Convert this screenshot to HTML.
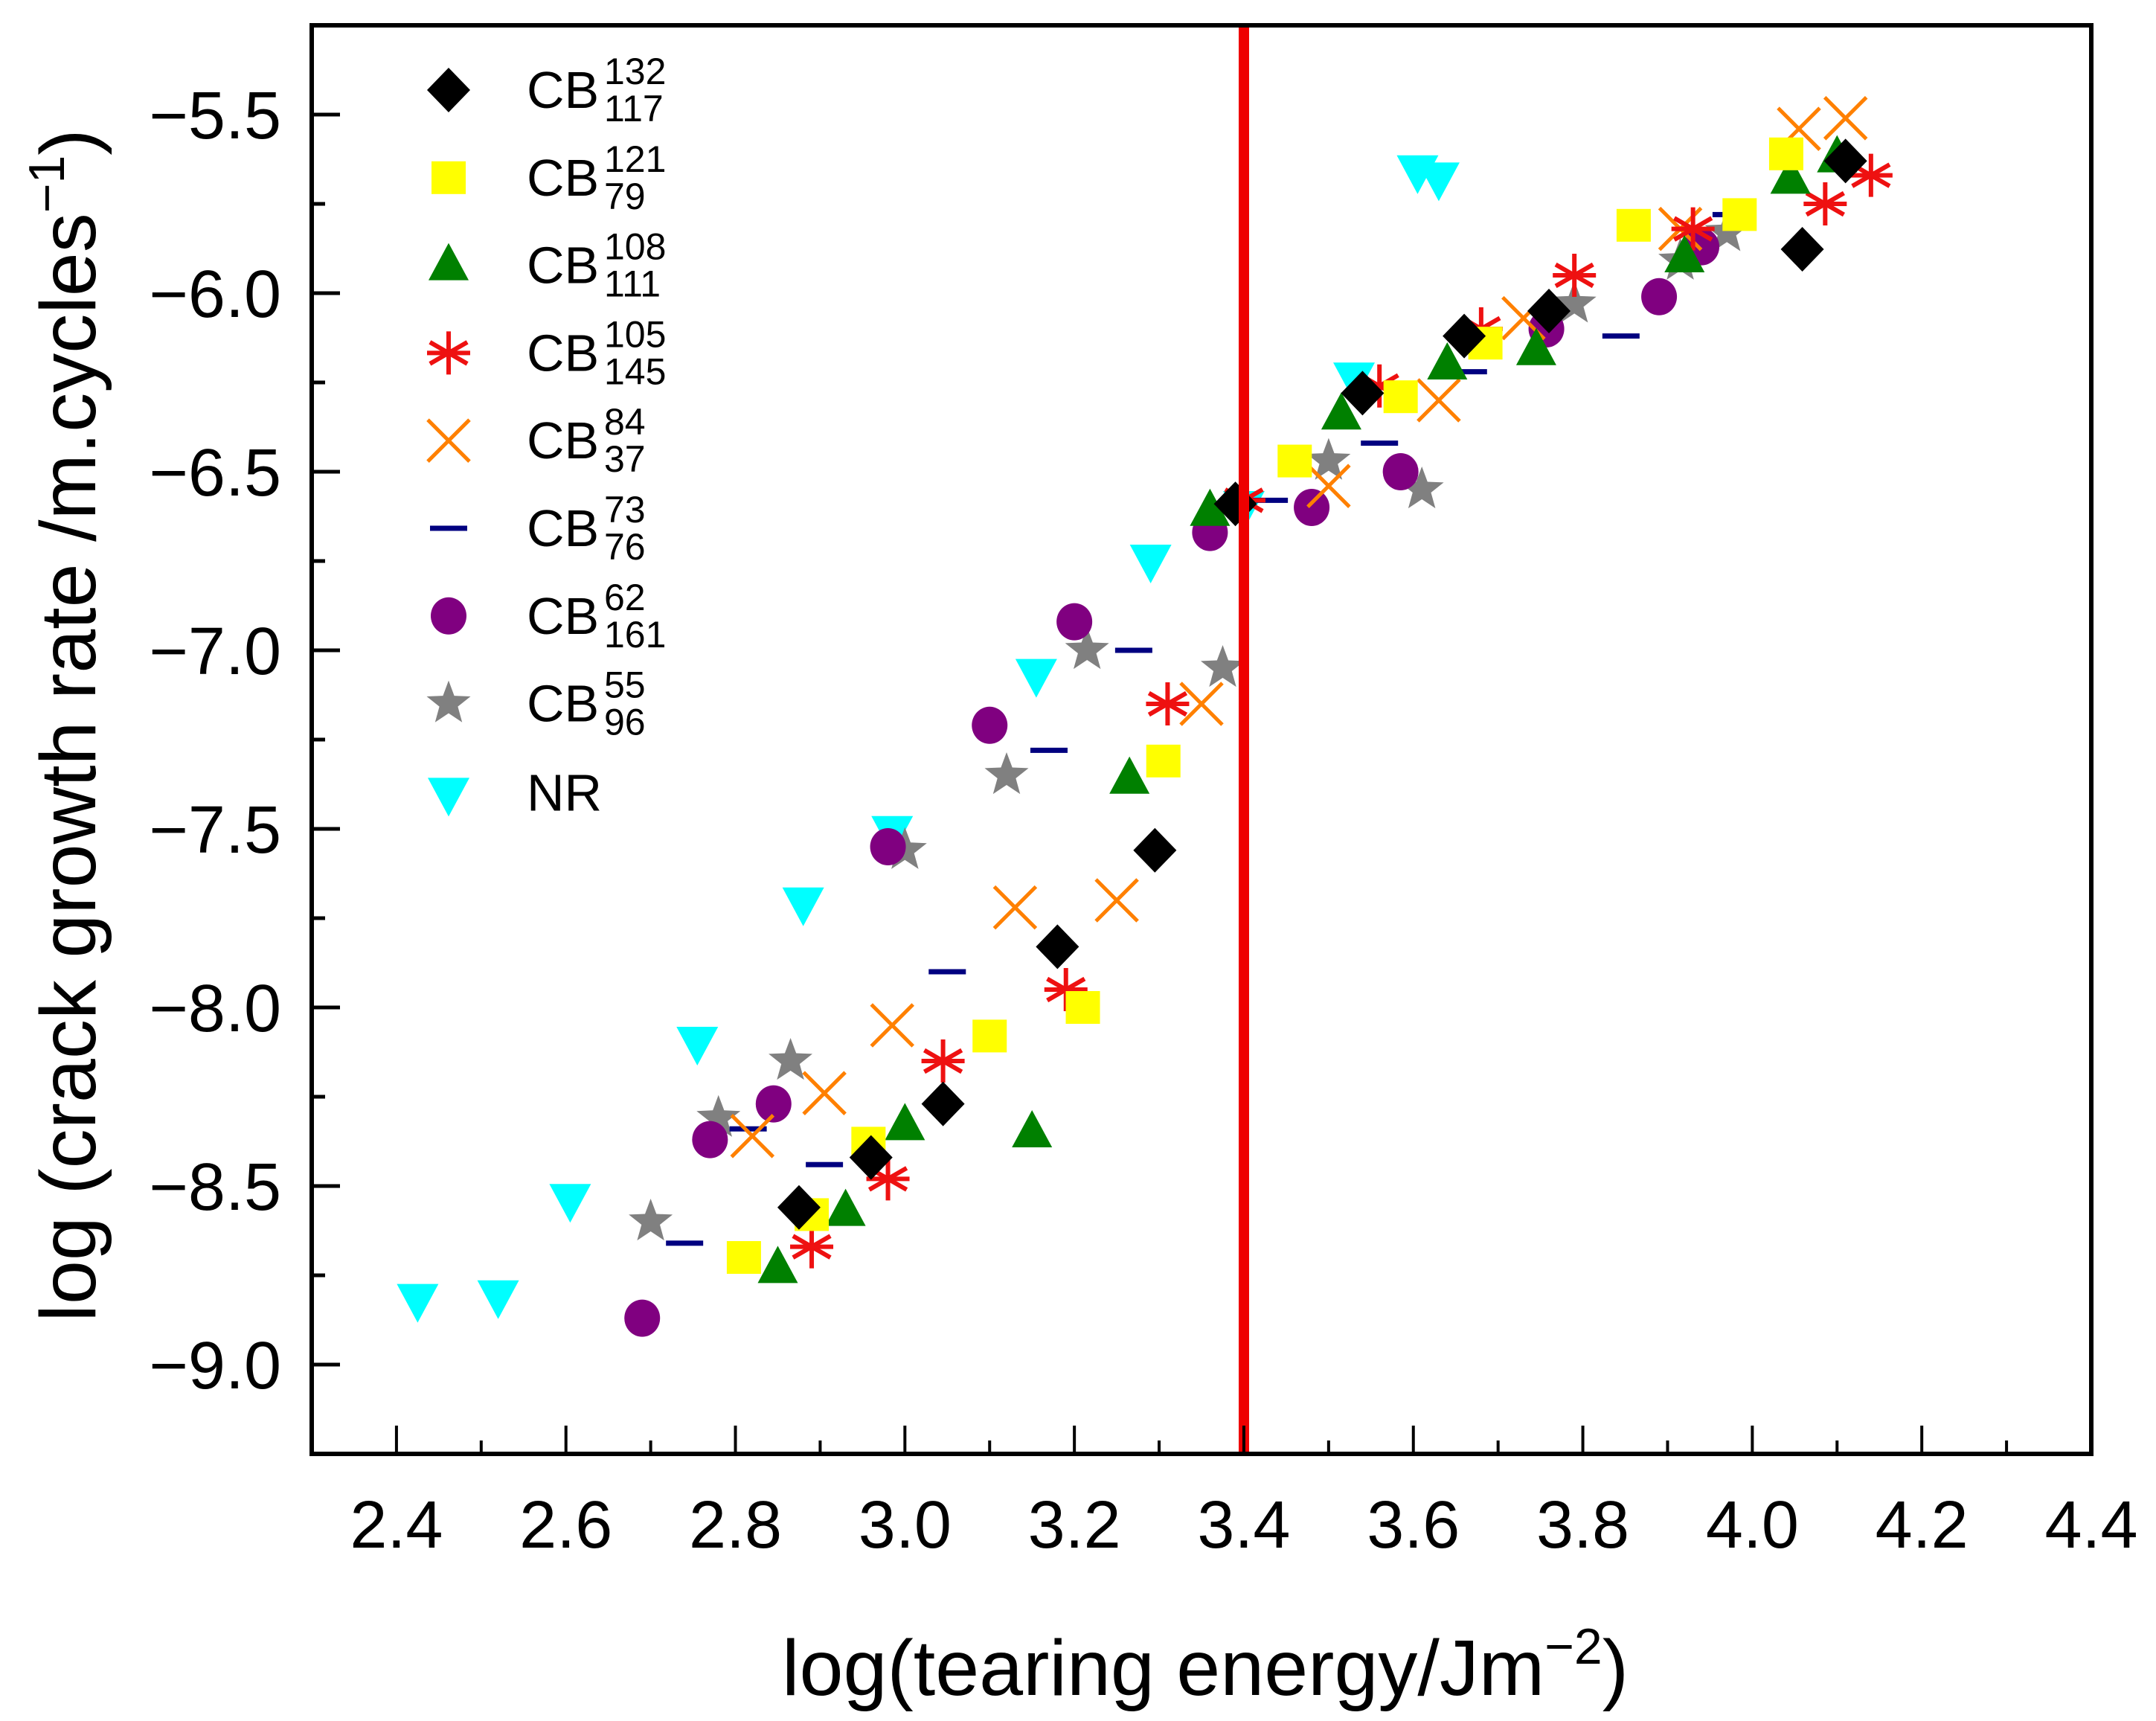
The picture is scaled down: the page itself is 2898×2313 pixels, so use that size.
<!DOCTYPE html>
<html><head><meta charset="utf-8"><style>
html,body{margin:0;padding:0;background:#fff;}
svg{display:block;font-family:"Liberation Sans",Arial,sans-serif;}
</style></head><body>
<svg id="chart" width="2898" height="2313" viewBox="0 0 2898 2313" xmlns="http://www.w3.org/2000/svg">
<rect width="2898" height="2313" fill="#fff"/>
<g id="marks"></g>
<line x1="1672" y1="34" x2="1672" y2="1954" stroke="#ee0000" stroke-width="14"/>
<rect x="419" y="34" width="2392" height="1920" fill="none" stroke="#000" stroke-width="6"/>
<g id="axes"></g>
<g id="legend"></g>
<text x="1620" y="2278" font-size="106" text-anchor="middle">log(tearing energy/Jm<tspan dy="-42" font-size="68">−2</tspan><tspan dy="42">)</tspan></text>
<text transform="translate(128,975) rotate(-90)" font-size="106" text-anchor="middle">log (crack growth rate /m.cycles<tspan dy="-42" font-size="68">−1</tspan><tspan dy="42">)</tspan></text>
</svg>
<script>
const xTicks=[2.4,2.6,2.8,3.0,3.2,3.4,3.6,3.8,4.0,4.2,4.4];
const yTicks=[-5.5,-6.0,-6.5,-7.0,-7.5,-8.0,-8.5,-9.0];
const seriesNames=["CB132_117","CB121_79","CB108_111","CB105_145","CB84_37","CB73_76","CB62_161","CB55_96","NR"];
const cb132x=[4.059,4.11,3.76,3.66,3.54,3.39,3.295,3.18,3.045,2.96,2.875];
const cb132y=[-5.877,-5.63,-6.05,-6.12,-6.28,-6.59,-7.56,-7.83,-8.27,-8.42,-8.56];
const cb121x=[4.04,3.985,3.86,3.685,3.585,3.46,3.305,3.21,3.1,2.957,2.89,2.81];
const cb121y=[-5.61,-5.78,-5.81,-6.14,-6.29,-6.47,-7.31,-8.0,-8.08,-8.38,-8.58,-8.70];
const cb108x=[4.10,4.045,3.92,3.745,3.64,3.515,3.36,3.265,3.15,3.0,2.93,2.85];
const cb108y=[-5.62,-5.68,-5.9,-6.16,-6.2,-6.34,-6.61,-7.36,-8.35,-8.33,-8.57,-8.73];
const cb105x=[4.14,4.086,3.93,3.79,3.68,3.56,3.40,3.31,3.19,3.045,2.98,2.89];
const cb105y=[-5.67,-5.75,-5.82,-5.95,-6.10,-6.26,-6.58,-7.15,-7.95,-8.15,-8.48,-8.67];
const cb84x=[4.11,4.055,3.915,3.73,3.63,3.50,3.35,3.25,3.13,2.985,2.905,2.82];
const cb84y=[-5.51,-5.54,-5.82,-6.07,-6.30,-6.54,-7.15,-7.70,-7.72,-8.05,-8.24,-8.36];
const cb73x=[3.975,3.845,3.665,3.56,3.43,3.27,3.17,3.05,2.905,2.815,2.74];
const cb73y=[-5.78,-6.12,-6.22,-6.42,-6.58,-7.0,-7.28,-7.90,-8.44,-8.34,-8.66];
const cb62x=[3.94,3.89,3.757,3.585,3.48,3.36,3.20,3.10,2.98,2.845,2.77,2.69];
const cb62y=[-5.87,-6.01,-6.10,-6.50,-6.60,-6.67,-6.92,-7.21,-7.55,-8.27,-8.37,-8.87];
const cb55x=[3.97,3.915,3.79,3.61,3.50,3.375,3.215,3.12,3.0,2.865,2.78,2.70];
const cb55y=[-5.83,-5.91,-6.03,-6.55,-6.47,-7.05,-7.0,-7.35,-7.56,-8.15,-8.31,-8.60];
const nrx=[3.605,3.63,3.53,3.40,3.29,3.155,2.985,2.88,2.755,2.605,2.52,2.425];
const nry=[-5.66,-5.68,-6.24,-6.60,-6.75,-7.07,-7.51,-7.71,-8.10,-8.54,-8.81,-8.82];

const NS="http://www.w3.org/2000/svg";
const X0=419,X1=2811,Y0=34,Y1=1954,XMIN=2.3,XMAX=4.4,YMIN=-9.25,YMAX=-5.25;
function sx(v){return X0+(v-XMIN)/(XMAX-XMIN)*(X1-X0);}
function sy(v){return Y1-(v-YMIN)/(YMAX-YMIN)*(Y1-Y0);}
function mk(tag,attrs,parent){const e=document.createElementNS(NS,tag);for(const k in attrs)e.setAttribute(k,attrs[k]);parent.appendChild(e);return e;}

function marker(type,cx,cy,parent){
  const g=mk('g',{},parent);
  if(type==='diamond')mk('polygon',{points:`${cx},${cy-30} ${cx+29},${cy} ${cx},${cy+30} ${cx-29},${cy}`,fill:'#000'},g);
  else if(type==='square')mk('rect',{x:cx-23,y:cy-22,width:46,height:44,fill:'#ffff00'},g);
  else if(type==='tri')mk('polygon',{points:`${cx},${cy-30} ${cx+27},${cy+20} ${cx-27},${cy+20}`,fill:'#008000'},g);
  else if(type==='ast'){for(const a of [0,60,120]){const r=a*Math.PI/180;mk('line',{x1:cx-29*Math.sin(r),y1:cy-29*Math.cos(r),x2:cx+29*Math.sin(r),y2:cy+29*Math.cos(r),stroke:'#ee1111','stroke-width':6},g);}mk('line',{x1:cx-29,y1:cy,x2:cx+29,y2:cy,stroke:'#ee1111','stroke-width':6},g);}
  else if(type==='x'){mk('path',{d:`M${cx-28},${cy-28}L${cx+28},${cy+28}M${cx+28},${cy-28}L${cx-28},${cy+28}`,stroke:'#ff8000','stroke-width':5,fill:'none'},g);}
  else if(type==='dash')mk('rect',{x:cx-25,y:cy-3.5,width:50,height:7,fill:'#000080'},g);
  else if(type==='circle')mk('ellipse',{cx:cx,cy:cy,rx:24,ry:25,fill:'#800080'},g);
  else if(type==='star'){let p=[];for(let i=0;i<10;i++){const r=i%2?13:31;const a=-Math.PI/2+i*Math.PI/5;p.push((cx+r*Math.cos(a)).toFixed(1)+','+(cy+r*Math.sin(a)).toFixed(1));}mk('polygon',{points:p.join(' '),fill:'#808080'},g);}
  else if(type==='down')mk('polygon',{points:`${cx-28},${cy-22} ${cx+28},${cy-22} ${cx},${cy+30}`,fill:'#00ffff'},g);
  return g;
}

const axes=document.getElementById('axes');
xTicks.forEach((t,i)=>{
  const x=sx(t);
  const tk=mk('line',{x1:x,y1:Y1,x2:x,y2:Y1-38,stroke:'#000','stroke-width':4},axes);
  
  
  const lb=mk('text',{x:x,y:2080,'font-size':90,'text-anchor':'middle'},axes);
  lb.textContent=t.toFixed(1);
  
  
  const m=sx(t-0.1);
  if(m>X0+2){const mt=mk('line',{x1:m,y1:Y1,x2:m,y2:Y1-18,stroke:'#000','stroke-width':4},axes);
  
  }
});
yTicks.forEach(t=>{
  const y=sy(t);
  const tk=mk('line',{x1:X0,y1:y,x2:X0+38,y2:y,stroke:'#000','stroke-width':5},axes);
  
  
  const lb=mk('text',{x:378,y:y+32,'font-size':90,'text-anchor':'end'},axes);
  lb.textContent=(t<0?'−':'')+Math.abs(t).toFixed(1);
  
  
});
[-5.25,-5.75,-6.25,-6.75,-7.25,-7.75,-8.25,-8.75,-9.25].forEach(t=>{
  const y=sy(t); if(y<=Y0+3||y>=Y1-3)return;
  const mt=mk('line',{x1:X0,y1:y,x2:X0+18,y2:y,stroke:'#000','stroke-width':5},axes);
  
  
});

const types=['diamond','square','tri','ast','x','dash','circle','star','down'];
const xs=[cb132x,cb121x,cb108x,cb105x,cb84x,cb73x,cb62x,cb55x,nrx];
const ys=[cb132y,cb121y,cb108y,cb105y,cb84y,cb73y,cb62y,cb55y,nry];
const marks=document.getElementById('marks');
const order=[8,7,6,5,4,3,2,1,0];
order.forEach(s=>{
  const g=mk('g',{},marks);
  
  
  xs[s].forEach((v,i)=>{
    const m=marker(types[s],sx(v),sy(ys[s][i]),g);
    
    
  });
});

const legend=document.getElementById('legend');
const labels=[['132','117'],['121','79'],['108','111'],['105','145'],['84','37'],['73','76'],['62','161'],['55','96'],null];
labels.forEach((l,i)=>{
  const y=121+i*117.8;
  const g=mk('g',{},legend);
  
  
  marker(types[i],603,i===8?y+4:y,g);
  if(l){
    const t=mk('text',{x:708,y:y+24,'font-size':70},g);t.textContent='CB';
    const sp=mk('text',{x:812,y:y-8,'font-size':50},g);sp.textContent=l[0];
    const sb=mk('text',{x:812,y:y+42,'font-size':50},g);sb.textContent=l[1];
  } else {const t=mk('text',{x:708,y:y+26,'font-size':70},g);t.textContent='NR';}
});
</script>
</body></html>
